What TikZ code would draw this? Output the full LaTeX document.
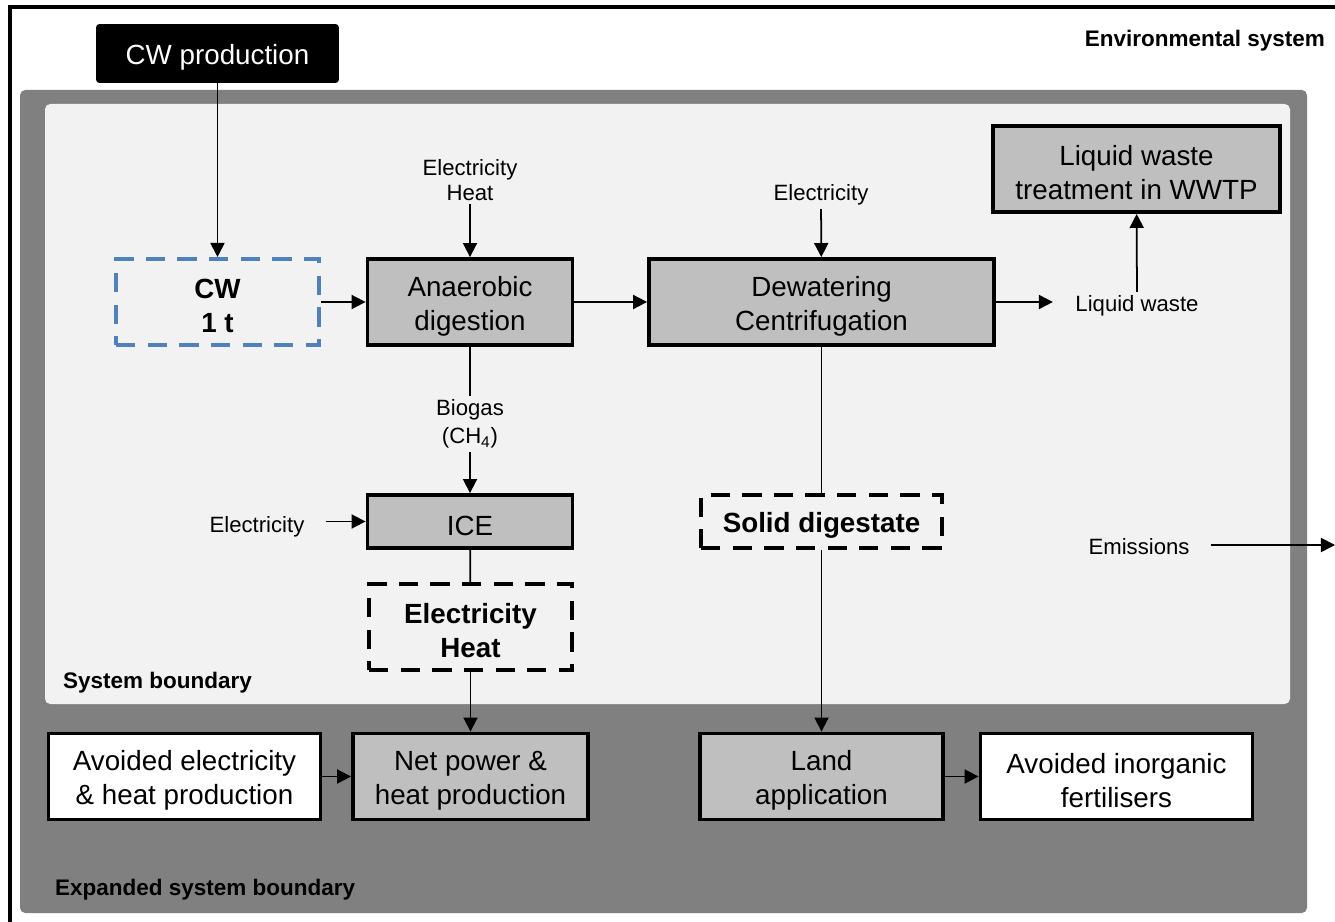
\documentclass[tikz,border=0pt]{standalone}
\usepackage{fontspec}
\setmainfont{Liberation Sans}
\usepackage{xcolor}
\usetikzlibrary{arrows.meta}
\definecolor{boxgrey}{HTML}{BFBFBF}
\definecolor{outergrey}{HTML}{808080}
\definecolor{innergrey}{HTML}{F2F2F2}
\definecolor{cwblue}{HTML}{4F81BD}
\newcommand{\boxfont}{\fontsize{15.8}{19.3}\selectfont}
\newcommand{\lblfont}{\fontsize{12.6}{14.2}\selectfont}
\newcommand{\bndfont}{\fontsize{12.8}{15}\selectfont\bfseries}
\newcommand{\tp}{\rule{0pt}{16pt}}

\begin{document}
\begin{tikzpicture}[x=0.02cm, y=-0.02cm,
          box/.style={draw, line width=2.2pt, fill=boxgrey, minimum width=4.1cm, minimum height=1.72cm, align=center, font=\boxfont, inner sep=1pt},
          avoided/.style={box, fill=white, minimum width=5.44cm},
          dashbox/.style={draw, line width=2.3pt, dash pattern=on 11pt off 7pt, minimum width=4.08cm, minimum height=1.72cm, align=center, font=\boxfont\bfseries, inner sep=1pt},
          lbl/.style={align=center, font=\lblfont, inner sep=2pt},
          flow/.style={-{Triangle[length=8pt, width=8pt]}, line width=1pt},
          link/.style={line width=1pt}
        ]
          \useasboundingbox (0,0) rectangle (1335,922);
          \draw[line width=2.2pt] (10,940) -- (10,7) -- (1350,7);
          \node[anchor=east, font=\bndfont] (envsys) at (1331,41) {Environmental system};

          \fill[outergrey, rounded corners=3pt] (20,90) rectangle (1307,913);
          \fill[innergrey, rounded corners=3pt] (45,104) rectangle (1290,704);
          \node[anchor=west, font=\bndfont] (sysb) at (57,683) {System boundary};
          \node[anchor=west, font=\bndfont] (expb) at (49,890) {Expanded system boundary};

          \node[fill=black, text=white, rounded corners=2pt, minimum width=4.86cm, minimum height=1.18cm, font=\boxfont] (cwprod) at (217.5,53.5) {\tp CW production};
          \node[dashbox, draw=cwblue, minimum width=4.06cm] (cw) at (217.5,302) {\tp CW\\1 t};
          \node[box] (ad) at (470,302) {\tp Anaerobic\\digestion};
          \node[box, minimum width=6.9cm] (dw) at (821.5,302) {\tp Dewatering\\Centrifugation};
          \node[box, minimum width=5.74cm] (wwtp) at (1136.5,169) {\tp Liquid waste\\treatment in WWTP};
          \node[box, minimum height=1.06cm] (ice) at (470,521.5) {\tp ICE};
          \node[dashbox, minimum width=4.06cm] (elheat) at (470.5,627) {\tp Electricity\\Heat};
          \node[dashbox, minimum width=4.82cm, minimum height=1.06cm] (solid) at (821.5,521.5) {\tp Solid digestate};
          \node[box, minimum width=4.7cm] (net) at (470.5,776.5) {\tp Net power \&\\heat production};
          \node[avoided] (avel) at (184.5,776.5) {\tp Avoided electricity\\\& heat production};
          \node[box, minimum width=4.86cm] (land) at (821.5,776.5) {\tp Land\\application};
          \node[avoided] (avfert) at (1116.5,776.5) {\tp Avoided inorganic\\fertilisers};

          \node[lbl] (elecad) at (470,180) {Electricity\\Heat};
          \node[lbl] (elecdw) at (821,195) {Electricity};
          \node[lbl] (liquid) at (1137,306) {Liquid waste};
          \node[lbl] (biogas) at (470,424) {Biogas\\[2pt](CH\textsubscript{4})};
          \node[lbl] (elecice) at (257,527) {Electricity};
          \node[lbl] (emis) at (1139,547) {Emissions};
          \coordinate (emisend) at (1335,545);

          \draw[flow] (cwprod) -- (cw);
          \draw[flow] (cw) -- (ad);
          \draw[flow] (elecad) -- (ad);
          \draw[flow] (ad.east) -- (dw.west);
          \draw[flow] (elecdw) -- (dw);
          \draw[flow] (dw.east) -- ++(57,0);
          \draw[flow] (liquid) -- (wwtp);
          \draw[link] (ad) -- (biogas);
          \draw[flow] (biogas) -- (ice);
          \draw[flow, shorten <=0.35cm] (elecice.east |- ice.west) -- (ice.west);
          \draw[link] (ice) -- (elheat);
          \draw[flow] (elheat) -- (net);
          \draw[flow] (avel) -- (net);
          \draw[link] (dw) -- (solid);
          \draw[flow] (solid) -- (land);
          \draw[flow] (land) -- (avfert);
          \draw[flow, shorten <=0.35cm] (emis.east |- emisend) -- (emisend);
        \end{tikzpicture}
\end{document}
